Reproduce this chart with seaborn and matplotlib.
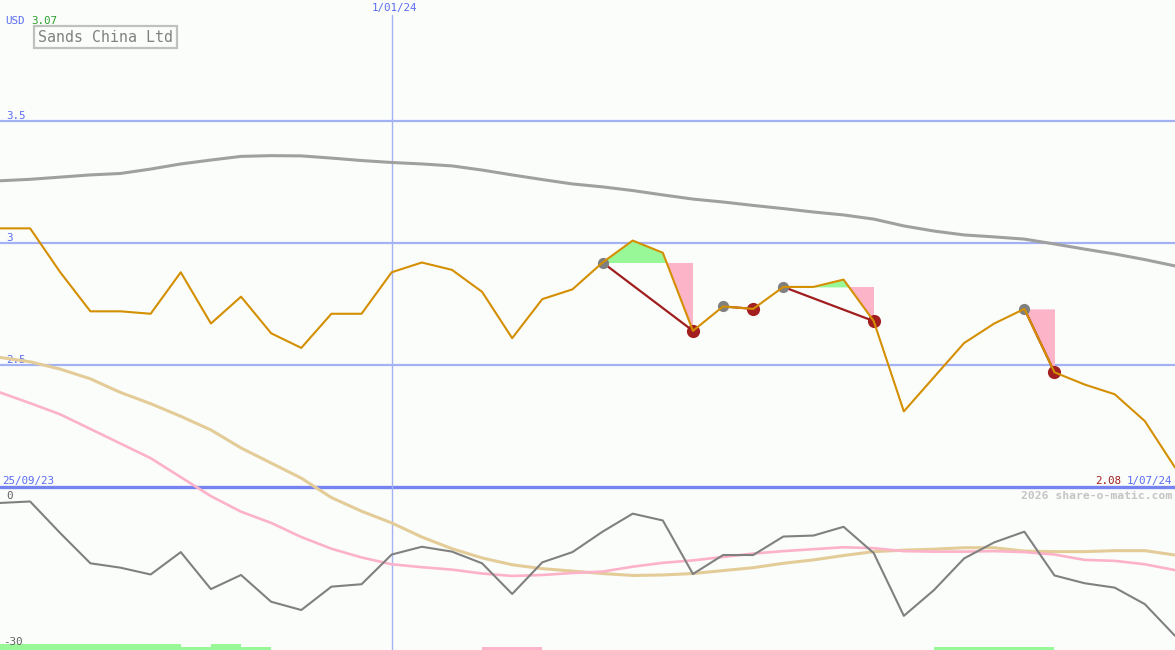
import numpy as np
import matplotlib
matplotlib.use('Agg')
import matplotlib.pyplot as plt
import seaborn as sns

# weekly closes (USD), 25/09/23 .. 1/07/24
price = [3.06, 3.06, 2.88, 2.72, 2.72, 2.71, 2.88, 2.67, 2.78, 2.63,
         2.57, 2.71, 2.71, 2.88, 2.92, 2.89, 2.80, 2.61, 2.77, 2.81,
         2.92, 3.01, 2.96, 2.64, 2.74, 2.73, 2.82, 2.82, 2.85, 2.68,
         2.31, 2.45, 2.59, 2.67, 2.73, 2.47, 2.42, 2.38, 2.27, 2.08]

# long moving average of price
price_ma = [3.255, 3.261, 3.270, 3.279, 3.285, 3.303, 3.324, 3.340, 3.355, 3.358,
            3.357, 3.348, 3.338, 3.330, 3.324, 3.316, 3.299, 3.279, 3.260, 3.242,
            3.230, 3.215, 3.197, 3.180, 3.168, 3.154, 3.141, 3.127, 3.115, 3.098,
            3.070, 3.049, 3.033, 3.025, 3.016, 2.996, 2.975, 2.955, 2.932, 2.906]

# relative performance (%) and its averages
rel = [-0.4, -0.1, -6.6, -12.8, -13.7, -15.1, -10.5, -18.1, -15.2, -20.7,
       -22.4, -17.6, -17.1, -11.0, -9.4, -10.4, -12.8, -19.1, -12.6, -10.5,
       -6.3, -2.6, -4.0, -15.0, -11.1, -11.1, -7.3, -7.1, -5.3, -10.7,
       -23.6, -18.3, -11.8, -8.5, -6.3, -15.3, -16.9, -17.8, -21.2, -27.7]
rel_ma_short = [22.3, 20.1, 17.8, 14.8, 11.8, 8.8, 4.9, 1.0, -2.2, -4.5,
                -7.4, -9.8, -11.6, -13.0, -13.6, -14.1, -14.9, -15.4, -15.2, -14.8,
                -14.5, -13.5, -12.7, -12.2, -11.5, -10.8, -10.3, -9.9, -9.5, -9.7,
                -10.3, -10.4, -10.4, -10.3, -10.5, -11.0, -12.1, -12.3, -13.0, -14.2]
rel_ma_long = [29.5, 28.6, 27.1, 25.1, 22.3, 20.0, 17.4, 14.6, 10.9, 7.8,
               4.7, 0.7, -2.1, -4.5, -7.4, -9.8, -11.7, -13.1, -13.9, -14.4,
               -14.9, -15.3, -15.2, -14.9, -14.3, -13.7, -12.8, -12.1, -11.2, -10.4,
               -10.1, -9.9, -9.6, -9.6, -10.3, -10.4, -10.4, -10.2, -10.2, -11.1]

# signal strip per week: 2 strong buy, 1 weak buy, -1 weak sell
strip = [2, 2, 2, 2, 2, 2, 1, 2, 1, 0,
         0, 0, 0, 0, 0, 0, -1, -1, 0, 0,
         0, 0, 0, 0, 0, 0, 0, 0, 0, 0,
         0, 1, 1, 1, 1, 0, 0, 0, 0]

sig_start = [20, 24, 26, 34]
sig_end = [23, 25, 29, 35]

price_ticks = [3.5, 3.0, 2.5]
price_tick_labels = ['3.5', '3', '2.5']
new_year_week = 13
start_label, end_label = '25/09/23', '1/07/24'

weeks = np.arange(len(price))

BG = '#fbfdfb'
GRID = '#a3b2f2'
SEP = '#7584f0'
BLUE_TXT = '#5a6cf0'
ORANGE = '#d48f00'
FS = 7.8

sns.set_style('white')
plt.rcParams['font.family'] = ['DejaVu Sans Mono']

fig = plt.figure(figsize=(11.75, 6.5), dpi=100, facecolor=BG)
ax = fig.add_axes([0, 0, 1, 1], facecolor=BG)
ax.set_xlim(0, len(price) - 1)
ax.set_ylim(2 - 163 / 244, 2 + 487 / 244)

# grid
for v in price_ticks:
    ax.axhline(v, color=GRID, lw=1.6, zorder=0.5)
ax.axhline(2.0, color=SEP, lw=2.4, zorder=0.5)
ax.axvline(new_year_week, ymax=1 - 15 / 650, color=GRID, lw=1, zorder=0.5)

sns.lineplot(x=weeks, y=price_ma, ax=ax, color='#a0a0a0', lw=2.2, zorder=2)

# signal fills
for s, e in zip(sig_start, sig_end):
    xs = weeks[s:e + 1]
    ys = np.array(price[s:e + 1])
    lvl = price[s]
    ax.fill_between(xs, lvl, ys, where=ys >= lvl, interpolate=True,
                    color='#98f898', lw=0, zorder=1.5)
    ax.fill_between(xs, lvl, ys, where=ys <= lvl, interpolate=True,
                    color='#fcb4c8', lw=0, zorder=1.5)
    ax.plot([s, e], [price[s], price[e]], color='#a01e1e', lw=1.6, zorder=3)

ax.scatter(sig_start, [price[i] for i in sig_start], s=65, color='#808080',
           zorder=3.5, linewidths=0)
ax.scatter(sig_end, [price[i] for i in sig_end], s=90, color='#a31f1f',
           zorder=3.5, linewidths=0)

sns.lineplot(x=weeks, y=price, ax=ax, color=ORANGE, lw=1.5, zorder=4)

# lower panel, shares the whole canvas so the averages run up into the price area
lo = ax.twinx()
lo.set_ylim(-(650 - 501) / 4.867, 501 / 4.867)
sns.lineplot(x=weeks, y=rel_ma_long, ax=lo, color='#e3cc98', lw=2.2, zorder=2)
sns.lineplot(x=weeks, y=rel_ma_short, ax=lo, color='#fcb2c8', lw=1.9, zorder=2)
sns.lineplot(x=weeks, y=rel, ax=lo, color='#808080', lw=1.5, zorder=3)

bottom = lo.get_ylim()[0]
unit = 3 / 4.867
heights = [abs(v) * unit for v in strip]
colors = ['#98f898' if v > 0 else '#fcb4c8' for v in strip]
lo.bar(weeks[:-1], heights, bottom=bottom, width=1, align='edge',
       color=colors, lw=0, zorder=1)

for a in (ax, lo):
    a.set_axis_off()
ax.set_xlim(0, len(price) - 1)

# labels
for v, t in zip(price_ticks, price_tick_labels):
    ax.annotate(t, (0, v), xytext=(6, 0), textcoords='offset pixels',
                color=BLUE_TXT, fontsize=FS, va='bottom', ha='left')
ax.annotate(start_label, (0, 2.0), xytext=(2, 1), textcoords='offset pixels',
            color=BLUE_TXT, fontsize=FS, va='bottom', ha='left')
ax.annotate(end_label, (len(price) - 1, 2.0), xytext=(-3, 1),
            textcoords='offset pixels', color=BLUE_TXT, fontsize=FS,
            va='bottom', ha='right')
ax.annotate(f'{price[-1]:.2f}', (len(price) - 1, 2.0), xytext=(-54, 1),
            textcoords='offset pixels', color='#a01e1e', fontsize=FS,
            va='bottom', ha='right')
ax.annotate('1/01/24', (new_year_week, 1), xycoords=('data', 'axes fraction'),
            xytext=(3, -3), textcoords='offset pixels', color=BLUE_TXT,
            fontsize=FS, va='top', ha='center')
lo.annotate('0', (0, 0), xytext=(6, 0), textcoords='offset pixels',
            color='#606060', fontsize=FS, va='bottom', ha='left')
lo.annotate('-30', (0, -30), xytext=(3, 0), textcoords='offset pixels',
            color='#606060', fontsize=FS, va='bottom', ha='left')

fig.text(5 / 1175, 1 - 21 / 650, 'USD', color=BLUE_TXT, fontsize=FS, va='center')
fig.text(31 / 1175, 1 - 21 / 650, '3.07', color='#2aa02a', fontsize=FS, va='center')
fig.text(38 / 1175, 1 - 37 / 650, 'Sands China Ltd', color='#808080', fontsize=10.8,
         va='center', ha='left',
         bbox=dict(boxstyle='square,pad=0.25', fc='none', ec='#c0c0c0', lw=1.6))
fig.text(1172 / 1175, 1 - 496 / 650, '2026 share-o-matic.com', color='#c4c4c4',
         fontsize=8.2, fontweight='bold', va='center', ha='right')

fig.savefig('out.png', dpi=100, facecolor=BG)
